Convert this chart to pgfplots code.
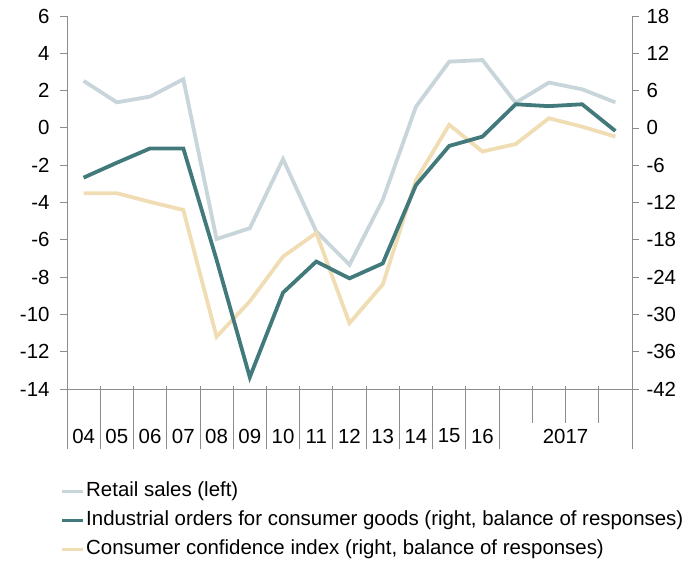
\documentclass[border=0pt]{standalone}
\usepackage{fontspec}
\setmainfont{Liberation Sans}
\usepackage{pgfplots}
\pgfplotsset{compat=1.18}

\definecolor{retail}{HTML}{C8D5DA}
\definecolor{orders}{HTML}{427A7C}
\definecolor{conf}{HTML}{F0DDB3}
\definecolor{axgray}{HTML}{8C8C8C}

\pgfplotsset{
  base/.style={
    width=565bp, height=373bp, scale only axis,
    xmin=-0.5, xmax=16.5,
    tick align=outside, major tick length=7bp,
    every tick/.style={axgray, line width=0.8bp},
    axis line style={axgray, line width=0.8bp},
    tick label style={font=\fontsize{20.5}{24}\selectfont},
    /pgf/number format/assume math mode=true,
    clip=false,
  },
}

\begin{document}
\begin{tikzpicture}
\begin{axis}[
  base, name=main,
  ymin=-14, ymax=6, ytick={-14,-12,...,6},
  axis y line*=left, axis x line*=bottom,
  xtick={0,1,...,12,14.5},
  xticklabels={04,05,06,07,08,09,10,11,12,13,14,15,16,2017},
  xtick style={draw=none},
  xticklabel style={anchor=center, yshift=-40bp},
  yticklabel style={xshift=-7bp},
]
\addplot[retail, line width=3.8bp] coordinates {
  (0,2.52) (1,1.37) (2,1.68) (3,2.61) (4,-5.96) (5,-5.38) (6,-1.68)
  (7,-5.55) (8,-7.34) (9,-3.86) (10,1.14) (11,3.55) (12,3.64)
  (13,1.35) (14,2.43) (15,2.07) (16,1.37)
};
% category separators below the axis
\pgfplotsinvokeforeach{-0.5,0.5,1.5,2.5,3.5,4.5,5.5,6.5,7.5,8.5,9.5,10.5,11.5,12.5,16.5}{
  \draw[axgray, line width=0.8bp] (axis cs:#1,-13.84) -- (axis cs:#1,-17.2);
}
\pgfplotsinvokeforeach{13.5,14.5,15.5}{
  \draw[axgray, line width=0.8bp] (axis cs:#1,-13.84) -- (axis cs:#1,-15.8);
}
\end{axis}

\begin{axis}[
  base,
  ymin=-42, ymax=18, ytick={-42,-36,...,18},
  axis y line*=right, axis x line=none,
  yticklabel style={xshift=4bp},
  legend style={
    at={(-0.012,-0.245)}, anchor=north west,
    draw=none, fill=none, inner sep=0pt,
    font=\fontsize{20.5}{24}\selectfont,
    row sep=7bp,
    nodes={inner sep=1bp, text height=15bp, text depth=5bp},
    cells={anchor=west},
  },
  legend image code/.code={\draw[#1] (0bp,0bp) -- (21bp,0bp);},
]
\addlegendimage{retail, line width=3.8bp}
\addlegendentry{Retail sales (left)}
\addlegendimage{orders, line width=3.8bp}
\addlegendentry{Industrial orders for consumer goods (right, balance of responses)}
\addlegendimage{conf, line width=3.8bp}
\addlegendentry{Consumer confidence index (right, balance of responses)}

\addplot[conf, line width=3.8bp, forget plot] coordinates {
  (0,-10.5) (1,-10.5) (2,-11.9) (3,-13.2) (4,-33.6) (5,-27.9) (6,-20.7)
  (7,-16.9) (8,-31.4) (9,-25.2) (10,-8.4) (11,0.5) (12,-3.8)
  (13,-2.6) (14,1.55) (15,0.2) (16,-1.4)
};
\addplot[orders, line width=3.8bp, forget plot] coordinates {
  (0,-8.0) (1,-5.6) (2,-3.3) (3,-3.3) (4,-21.2) (5,-40.1) (6,-26.5)
  (7,-21.5) (8,-24.2) (9,-21.8) (10,-9.2) (11,-2.9) (12,-1.4)
  (13,3.8) (14,3.5) (15,3.8) (16,-0.5)
};
\end{axis}

\pgfresetboundingbox
\path[use as bounding box] (main.south west) ++(-67bp,-174bp) rectangle ++(688bp,563bp);
\end{tikzpicture}
\end{document}
